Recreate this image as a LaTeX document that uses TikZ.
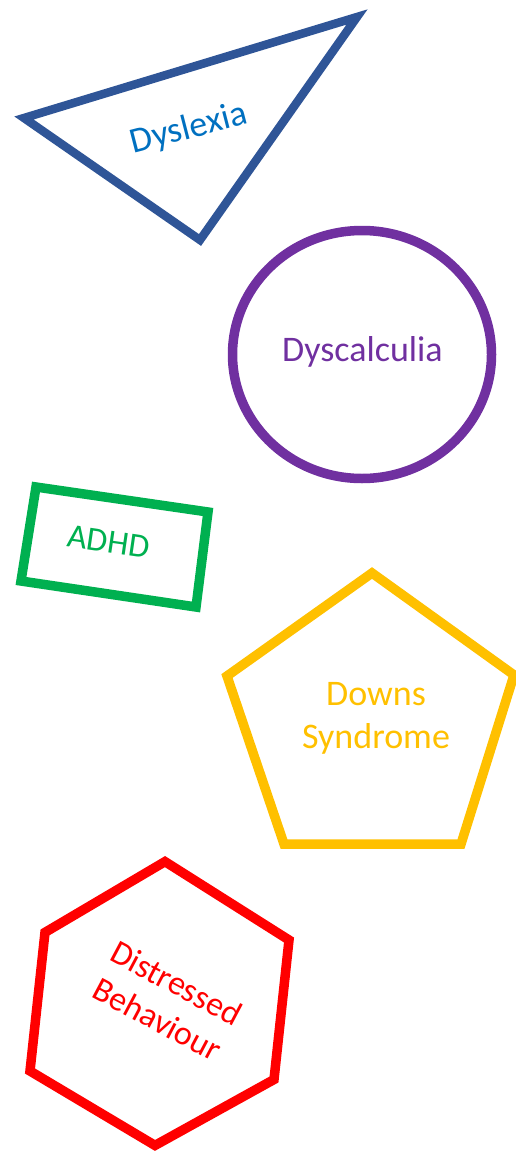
\documentclass[tikz,border=0pt]{standalone}
\usepackage{fontspec}
\setmainfont{Carlito}
\definecolor{triblue}{RGB}{47,85,151}
\definecolor{txtblue}{RGB}{0,112,192}
\definecolor{cpurple}{RGB}{112,48,160}
\definecolor{rgreen}{RGB}{0,176,80}
\definecolor{pgold}{RGB}{255,192,0}
\definecolor{hred}{RGB}{255,0,0}
\begin{document}
\begin{tikzpicture}[x=1pt,y=-1pt,
  shapeline/.style={line width=9.5pt, line join=miter},
  lbl/.style={inner sep=0pt, align=center, font=\fontsize{36}{43}\selectfont},
  lblsmall/.style={inner sep=0pt, align=center, font=\fontsize{34}{41}\selectfont}]
\useasboundingbox (0,0) rectangle (515,1153);
% triangle
\coordinate (t1) at (24,118);
\coordinate (t2) at (357,17);
\coordinate (t3) at (200,240);
\draw[shapeline, line width=8.5pt, triblue] (t1) -- (t2) -- (t3) -- cycle;
\node[lbl, text=txtblue, rotate=14.5] (dyslexia) at (189,129) {Dyslexia};
% circle
\coordinate (cc) at (362,354.5);
\draw[shapeline, cpurple] (cc) ellipse [x radius=129.5, y radius=124];
\node[lbl, text=cpurple] (dyscalculia) at (362.5,351.5) {Dyscalculia};
% rectangle
\coordinate (r1) at (36,487);
\coordinate (r2) at (208,512);
\coordinate (r3) at (196,607);
\coordinate (r4) at (21,581);
\draw[shapeline, rgreen] (r1) -- (r2) -- (r3) -- (r4) -- cycle;
\node[lblsmall, text=rgreen, rotate=-8.3] (adhd) at (109,541.6) {ADHD};
% pentagon
\coordinate (p1) at (372,573);
\coordinate (p2) at (514,675);
\coordinate (p3) at (461,844);
\coordinate (p4) at (284,844);
\coordinate (p5) at (227,676);
\draw[shapeline, pgold] (p1) -- (p2) -- (p3) -- (p4) -- (p5) -- cycle;
\node[lbl, text=pgold] (downs) at (376,718.5) {Downs\\Syndrome};
% hexagon
\coordinate (h1) at (165,861.6);
\coordinate (h2) at (289,940);
\coordinate (h3) at (274,1079.5);
\coordinate (h4) at (155,1145.4);
\coordinate (h5) at (30,1071);
\coordinate (h6) at (45,932.4);
\draw[shapeline, hred] (h1) -- (h2) -- (h3) -- (h4) -- (h5) -- (h6) -- cycle;
\node[lblsmall, text=hred, rotate=-28] (distressed) at (167,1001) {Distressed\\Behaviour};
\end{tikzpicture}
\end{document}
